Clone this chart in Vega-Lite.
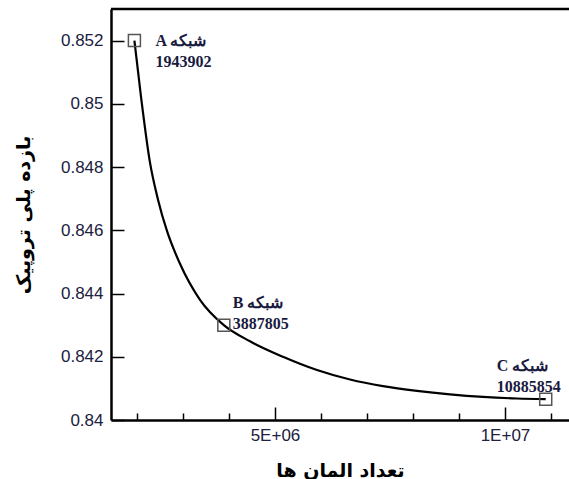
{
  "$schema": "https://vega.github.io/schema/vega-lite/v6.json",
  "width": 458,
  "height": 411,
  "autosize": {"type": "none"},
  "padding": {"left": 111, "top": 9, "right": 0, "bottom": 59},
  "background": "white",
  "config": {
    "view": {"stroke": null},
    "axis": {
      "grid": false,
      "domainColor": "black",
      "domainWidth": 2.5,
      "tickColor": "black",
      "tickWidth": 1.5,
      "labelFont": "Liberation Sans",
      "labelFontSize": 17,
      "labelColor": "#202040",
      "labelOverlap": false,
      "labelFlush": false,
      "labelBound": false,
      "titleFont": "DejaVu Sans",
      "titleFontWeight": "bold",
      "titleFontSize": 19,
      "titleColor": "black"
    }
  },
  "datasets": {
    "curve": [
      {"n": 1943902, "eff": 0.852},
      {"n": 2087000, "eff": 0.85023},
      {"n": 2283000, "eff": 0.84814},
      {"n": 2457000, "eff": 0.84697},
      {"n": 2652000, "eff": 0.84598},
      {"n": 2935000, "eff": 0.84494},
      {"n": 3370000, "eff": 0.8438},
      {"n": 3887805, "eff": 0.843},
      {"n": 4457000, "eff": 0.84249},
      {"n": 5174000, "eff": 0.842},
      {"n": 5913000, "eff": 0.84158},
      {"n": 6631000, "eff": 0.84128},
      {"n": 7348000, "eff": 0.84107},
      {"n": 8087000, "eff": 0.84092},
      {"n": 8804000, "eff": 0.84081},
      {"n": 9522000, "eff": 0.84073},
      {"n": 10261000, "eff": 0.84068},
      {"n": 10885854, "eff": 0.84066}
    ],
    "grids": [
      {"grid": "A", "n": 1943902, "eff": 0.852, "lines": ["A شبکه", "1943902"]},
      {"grid": "B", "n": 3887805, "eff": 0.843, "lines": ["B شبکه", "3887805"]},
      {"grid": "C", "n": 10885854, "eff": 0.84066, "lines": ["C شبکه", "10885854"]}
    ]
  },
  "layer": [
    {
      "data": {"values": [{}]},
      "mark": {"type": "rule", "color": "black", "strokeWidth": 2.5},
      "encoding": {"y": {"datum": 0.853, "type": "quantitative"}}
    },
    {
      "data": {"name": "curve"},
      "mark": {"type": "line", "interpolate": "monotone", "color": "black", "strokeWidth": 2.2},
      "encoding": {
        "x": {
          "field": "n",
          "type": "quantitative",
          "scale": {"domain": [1435000, 11392000], "nice": false, "zero": false},
          "axis": {
            "title": "تعداد المان ها",
            "titlePadding": 12,
            "values": [2000000, 3000000, 4000000, 5000000, 6000000, 7000000, 8000000, 9000000, 10000000, 11000000],
            "labelExpr": "datum.value === 5000000 ? '5E+06' : (datum.value === 10000000 ? '1E+07' : '')",
            "tickSize": {"condition": {"test": "datum.value % 5000000 === 0", "value": -13}, "value": -7},
            "labelPadding": 20
          }
        },
        "y": {
          "field": "eff",
          "type": "quantitative",
          "scale": {"domain": [0.84, 0.853], "nice": false, "zero": false},
          "axis": {
            "title": "بازده پلی تروپیک",
            "titlePadding": 27,
            "values": [0.84, 0.8405, 0.841, 0.8415, 0.842, 0.8425, 0.843, 0.8435, 0.844, 0.8445, 0.845, 0.8455, 0.846, 0.8465, 0.847, 0.8475, 0.848, 0.8485, 0.849, 0.8495, 0.85, 0.8505, 0.851, 0.8515, 0.852, 0.8525],
            "labelExpr": "round(datum.value * 2000) % 4 === 0 ? '' + datum.value : ''",
            "tickSize": {"condition": {"test": "round(datum.value * 2000) % 4 === 0", "value": -13}, "value": -7},
            "labelPadding": 21
          }
        }
      }
    },
    {
      "data": {"name": "grids"},
      "mark": {"type": "point", "shape": "square", "size": 144, "filled": false, "stroke": "#555555", "strokeWidth": 1.5, "opacity": 1},
      "encoding": {
        "x": {"field": "n", "type": "quantitative"},
        "y": {"field": "eff", "type": "quantitative"}
      }
    },
    {
      "data": {"name": "grids"},
      "transform": [{"filter": "datum.grid === 'A'"}],
      "mark": {"type": "text", "font": "Liberation Serif", "fontWeight": "bold", "fontSize": 16, "color": "#1a1a40", "align": "left", "baseline": "middle", "lineHeight": 21, "dx": 21, "dy": 0},
      "encoding": {
        "x": {"field": "n", "type": "quantitative"},
        "y": {"field": "eff", "type": "quantitative"},
        "text": {"field": "lines"}
      }
    },
    {
      "data": {"name": "grids"},
      "transform": [{"filter": "datum.grid === 'B'"}],
      "mark": {"type": "text", "font": "Liberation Serif", "fontWeight": "bold", "fontSize": 16, "color": "#1a1a40", "align": "left", "baseline": "middle", "lineHeight": 21, "dx": 9, "dy": -22},
      "encoding": {
        "x": {"field": "n", "type": "quantitative"},
        "y": {"field": "eff", "type": "quantitative"},
        "text": {"field": "lines"}
      }
    },
    {
      "data": {"name": "grids"},
      "transform": [{"filter": "datum.grid === 'C'"}],
      "mark": {"type": "text", "font": "Liberation Serif", "fontWeight": "bold", "fontSize": 16, "color": "#1a1a40", "align": "left", "baseline": "middle", "lineHeight": 21, "dx": -49, "dy": -33},
      "encoding": {
        "x": {"field": "n", "type": "quantitative"},
        "y": {"field": "eff", "type": "quantitative"},
        "text": {"field": "lines"}
      }
    }
  ]
}
